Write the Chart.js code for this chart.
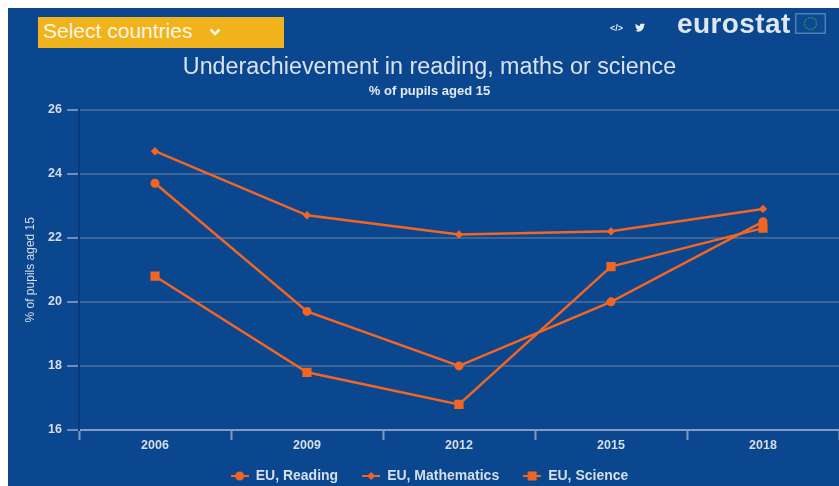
<!DOCTYPE html>
<html>
<head>
<meta charset="utf-8">
<title>Underachievement in reading, maths or science</title>
<script src="https://cdn.jsdelivr.net/npm/chart.js@4/dist/chart.umd.min.js"></script>
<style>
  html, body { margin: 0; padding: 0; background: #fff; overflow: hidden; }
  #panel { position: absolute; left: 8px; top: 8px; width: 831px; height: 478px; background: #0a478f; }
  #chart { position: absolute; left: 20px; top: 8px; }
  #select { position: absolute; left: 38px; top: 17px; width: 246px; height: 31px; background: #f0b31c;
    color: #fdf6e3; font: 21px/28px "Liberation Sans", sans-serif; padding-left: 5px; box-sizing: border-box; }
  #select svg { position: absolute; left: 171px; top: 11px; }
  #embed { position: absolute; left: 610px; top: 22px; color: #dfe8f3; font: bold 9px/12px "Liberation Sans", sans-serif; }
  #bird { position: absolute; left: 634px; top: 22px; }
  #logo { position: absolute; left: 677px; top: 9px; color: #dfe6ef; font: bold 28px/30px "Liberation Sans", sans-serif; letter-spacing: .4px; }
  #flag { position: absolute; left: 795px; top: 13px; }
</style>
</head>
<body>
<div id="panel"></div>
<canvas id="chart" width="819" height="478"></canvas>
<div id="select">Select countries
  <svg width="12" height="9" viewBox="0 0 12 9"><path d="M1.5 1.5 L6 6 L10.5 1.5" fill="none" stroke="#fdf6e3" stroke-width="2.6"/></svg>
</div>
<div id="embed">&lt;/&gt;</div>
<svg id="bird" width="12" height="11" viewBox="0 0 24 24"><path fill="#e6edf5" d="M23 5c-.8.4-1.700.6-2.600.7.900-.6 1.600-1.400 2-2.500-.9.500-1.800.9-2.900 1.100C18.600 3.400 17.400 3 16.200 3c-2.500 0-4.500 2-4.500 4.500 0 .4 0 .7.100 1C8 8.300 4.700 6.500 2.500 3.800c-.4.700-.6 1.400-.6 2.300 0 1.600.8 2.900 2 3.700-.7 0-1.400-.2-2-.6v.1c0 2.200 1.500 4 3.600 4.400-.4.100-.8.200-1.200.2-.3 0-.6 0-.9-.1.600 1.800 2.200 3.100 4.200 3.100C6 18.100 4 18.900 1.900 18.900c-.4 0-.7 0-1.100-.1C2.800 20.200 5.200 21 7.800 21c8.300 0 12.900-6.900 12.900-12.900v-.6c.9-.6 1.700-1.400 2.300-2.500z"/></svg>
<div id="logo">eurostat</div>
<svg id="flag" width="31" height="21" viewBox="0 0 31 21">
  <rect x="0.750" y="0.750" width="29.500" height="19.500" fill="#0b4a90" stroke="#4f7fb3" stroke-width="1.500"/>
  <circle cx="15.500" cy="10.500" r="6" fill="none" stroke="#3f7a6a" stroke-width="1.500" stroke-dasharray="2 1.100"/>
</svg>
<script>
// values
const years = ['2006', '2009', '2012', '2015', '2018'];
const reading = [23.7, 19.7, 18.0, 20.0, 22.5];
const mathematics = [24.7, 22.7, 22.1, 22.2, 22.9];
const science = [20.8, 17.8, 16.8, 21.1, 22.3];

const orange = '#f26522';
const textColor = '#d5dee9';
const fontName = '"Liberation Sans", Arial, sans-serif';

// legend symbol: short line with the marker on top of it
function legendIcon(style, radius) {
  const c = document.createElement('canvas');
  c.width = 18;
  c.height = 12;
  const g = c.getContext('2d');
  g.strokeStyle = orange;
  g.fillStyle = orange;
  g.lineWidth = 2;
  g.beginPath();
  g.moveTo(0, 6);
  g.lineTo(18, 6);
  g.stroke();
  g.beginPath();
  if (style === 'circle') g.arc(9, 6, radius, 0, Math.PI * 2);
  if (style === 'rect') g.rect(9 - radius, 6 - radius, radius * 2, radius * 2);
  if (style === 'rectRot') {
    g.moveTo(9, 6 - radius);
    g.lineTo(9 + radius, 6);
    g.lineTo(9, 6 + radius);
    g.lineTo(9 - radius, 6);
    g.closePath();
  }
  g.fill();
  return c;
}

function makeSeries(label, values, style, radius, iconRadius) {
  return {
    label: label,
    data: values,
    borderColor: orange,
    backgroundColor: orange,
    borderWidth: 2.5,
    tension: 0,
    pointStyle: style,
    pointRadius: radius,
    pointBorderWidth: 0,
    pointHoverRadius: radius,
    icon: legendIcon(style, iconRadius)
  };
}

// wide legend gaps also pad it vertically, so move it back up after layout
const liftLegend = {
  id: 'liftLegend',
  afterLayout: function (chart) { chart.legend.top -= 15; }
};

new Chart(document.getElementById('chart'), {
  type: 'line',
  plugins: [liftLegend],
  data: {
    labels: years,
    datasets: [
      makeSeries('EU, Reading', reading, 'circle', 4.5, 4.5),
      makeSeries('EU, Mathematics', mathematics, 'rectRot', 4.2, 4),
      makeSeries('EU, Science', science, 'rect', 6.5, 4.5)
    ]
  },
  options: {
    responsive: false,
    animation: false,
    layout: { autoPadding: false, padding: { left: 0, right: 0, top: 0, bottom: -22 } },
    plugins: {
      tooltip: { enabled: false },
      title: {
        display: true,
        text: 'Underachievement in reading, maths or science',
        color: '#d9e2ed',
        font: { family: fontName, size: 23.3, weight: 'normal', lineHeight: 1.2 },
        padding: { top: 46, bottom: 2 }
      },
      subtitle: {
        display: true,
        text: '% of pupils aged 15',
        color: '#e3e9f1',
        font: { family: fontName, size: 13, weight: 'bold', lineHeight: 1.2 },
        padding: { top: 0, bottom: 10 }
      },
      legend: {
        position: 'bottom',
        labels: {
          color: textColor,
          font: { family: fontName, size: 14, weight: 'bold' },
          usePointStyle: true,
          pointStyleWidth: 18,
          boxHeight: 12,
          padding: 24,
          generateLabels: function (chart) {
            return chart.data.datasets.map(function (ds, i) {
              return {
                text: ds.label,
                fontColor: textColor,
                fillStyle: orange,
                strokeStyle: orange,
                lineWidth: 0,
                pointStyle: ds.icon,
                datasetIndex: i
              };
            });
          }
        }
      }
    },
    scales: {
      x: {
        offset: true,
        afterFit: function (scale) { scale.height = 30; },
        grid: {
          offset: true,
          drawOnChartArea: false,
          drawTicks: true,
          tickLength: 10,
          tickColor: '#7f9dc2',
          tickWidth: 2
        },
        border: { color: '#7f9dc2', width: 2 },
        ticks: {
          color: textColor,
          padding: -2,
          font: { family: fontName, size: 12.5, weight: 'bold' }
        }
      },
      y: {
        min: 16,
        max: 26,
        afterFit: function (scale) { scale.width = 59; },
        grid: {
          color: '#3f6496',
          tickColor: '#6f90ba',
          tickLength: 12,
          lineWidth: 2
        },
        border: { color: '#0a3a78', width: 2 },
        ticks: {
          stepSize: 2,
          color: textColor,
          padding: 5,
          font: { family: fontName, size: 12.5, weight: 'bold' }
        },
        title: {
          display: true,
          text: '% of pupils aged 15',
          color: textColor,
          font: { family: fontName, size: 12, weight: 'normal' },
          padding: { top: 3, bottom: 0 }
        }
      }
    }
  }
});
</script>
</body>
</html>
